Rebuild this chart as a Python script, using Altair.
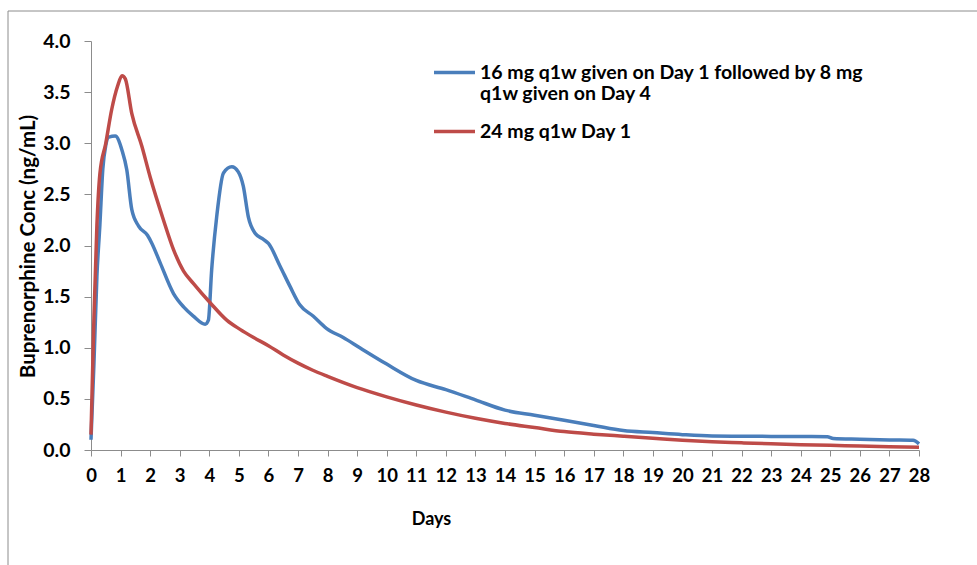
import altair as alt
import pandas as pd

BLUE_NAME = "16 mg q1w given on Day 1 followed by 8 mg|q1w given on Day 4"
RED_NAME = "24 mg q1w Day 1"

days_blue = [0, 0.1, 0.2, 0.3, 0.4, 0.5, 0.6, 0.82, 1.05, 1.21, 1.38, 1.61, 1.91, 2.06,
             2.34, 2.79, 3.13, 3.46, 3.86, 3.97, 4.08, 4.25, 4.48, 4.76, 4.98, 5.15,
             5.32, 5.55, 5.83, 6.0, 6.39, 6.73, 7.06, 7.51, 7.96, 8.53, 9.09, 10, 11,
             12, 13, 14, 15, 16, 17, 18, 19, 20, 21, 22, 23, 24, 24.9, 25.1, 26, 27,
             27.8, 28]
conc_blue = [0.1, 0.85, 1.7, 2.2, 2.75, 2.98, 3.06, 3.07, 2.93, 2.74, 2.35, 2.19, 2.1,
             2.02, 1.83, 1.53, 1.40, 1.31, 1.23, 1.27, 1.76, 2.28, 2.71, 2.77, 2.72,
             2.58, 2.28, 2.12, 2.06, 2.02, 1.80, 1.60, 1.42, 1.31, 1.19, 1.10, 1.0,
             0.84, 0.68, 0.59, 0.49, 0.39, 0.34, 0.29, 0.24, 0.19, 0.17, 0.15, 0.137,
             0.135, 0.133, 0.132, 0.13, 0.112, 0.105, 0.098, 0.095, 0.06]

days_red = [0, 0.1, 0.2, 0.3, 0.5, 0.7, 0.9, 1.05, 1.16, 1.38, 1.72, 2.0, 2.45, 2.79,
            3.13, 3.46, 4.03, 4.59, 5.04, 5.5, 6.0, 6.5, 7.0, 7.5, 8.0, 9.0, 10, 11, 12,
            13, 14, 15, 16, 17, 18, 19, 20, 21, 22, 23, 24, 25, 26, 27, 28]
conc_red = [0.15, 1.3, 2.2, 2.7, 3.0, 3.33, 3.56, 3.66, 3.63, 3.29, 2.97, 2.67, 2.25,
            1.96, 1.75, 1.63, 1.44, 1.27, 1.18, 1.10, 1.02, 0.93, 0.85, 0.78, 0.72,
            0.61, 0.52, 0.44, 0.37, 0.31, 0.26, 0.22, 0.18, 0.155, 0.135, 0.115, 0.095,
            0.08, 0.07, 0.06, 0.052, 0.046, 0.038, 0.032, 0.028]

x_ticks = list(range(0, 29))
y_ticks = [0, 0.5, 1.0, 1.5, 2.0, 2.5, 3.0, 3.5, 4.0]

df = pd.concat([
    pd.DataFrame({"day": days_blue, "conc": conc_blue, "series": BLUE_NAME, "order": range(len(days_blue))}),
    pd.DataFrame({"day": days_red, "conc": conc_red, "series": RED_NAME, "order": range(len(days_red))}),
])

FONT = "Lato"

frame = alt.Chart(pd.DataFrame({"a": [0]})).mark_rect(
    fill=None, stroke="#8c8c8c", strokeWidth=1
).encode(x=alt.value(-83), y=alt.value(-30), x2=alt.value(1000), y2=alt.value(700))

lines = alt.Chart(df).mark_line(strokeWidth=3.5, interpolate="monotone").encode(
    x=alt.X("day:Q", scale=alt.Scale(domain=[0, 28], nice=False),
            axis=alt.Axis(values=x_ticks, title="Days", grid=False, tickSize=6,
                          labelPadding=10, labelFontSize=18.5, titleX=340, titleY=69,
                          titleBaseline="middle", labelFlush=False)),
    y=alt.Y("conc:Q", scale=alt.Scale(domain=[0, 4], nice=False),
            axis=alt.Axis(values=y_ticks, format=".1f", title="Buprenorphine Conc (ng/mL)",
                          grid=False, tickSize=7, labelPadding=14, labelFontSize=19.5,
                          titleX=-63, titleY=205, titleFontSize=20.5,
                          titleAngle=-90, titleBaseline="middle", titleAlign="center")),
    color=alt.Color("series:N", scale=alt.Scale(domain=[BLUE_NAME, RED_NAME],
                                                range=["#4A7EBB", "#BE4B48"]),
                    legend=alt.Legend(orient="none", legendX=341, legendY=9, title=None,
                                      symbolType="stroke", symbolSize=1681,
                                      symbolStrokeWidth=3.5,
                                      labelExpr="split(datum.label, '|')",
                                      labelFontSize=19.5, labelFont=FONT, labelFontWeight="bold",
                                      labelColor="#000000", labelOffset=3, rowPadding=5,
                                      labelLimit=600)),
    order="order:Q",
)

chart = alt.layer(frame, lines).properties(
    width=828, height=409,
    autosize=alt.AutoSizeParams(type="none"),
    padding={"left": 91, "top": 41, "right": 58, "bottom": 115},
).configure_view(stroke=None).configure_axis(
    labelFont=FONT, labelFontWeight="bold", labelColor="#000000",
    titleFont=FONT, titleFontWeight="bold", titleFontSize=18, titleColor="#000000",
    domainColor="#8c8c8c", tickColor="#8c8c8c",
)

chart.save("out.html", embed_options={"renderer": "svg", "actions": False})
